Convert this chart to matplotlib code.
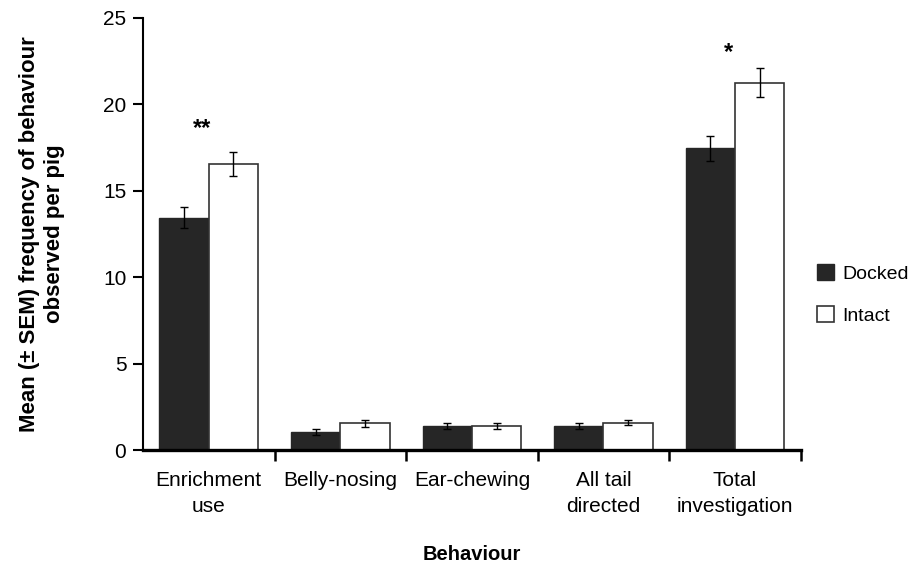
import matplotlib
matplotlib.use('Agg')
import matplotlib.pyplot as plt
import numpy as np

plt.rcParams['font.family'] = ['Liberation Sans', 'DejaVu Sans']

# data
categories = ['Enrichment\nuse', 'Belly-nosing', 'Ear-chewing', 'All tail\ndirected', 'Total\ninvestigation']
docked_mean = [13.45, 1.05, 1.4, 1.4, 17.45]
docked_sem = [0.6, 0.15, 0.15, 0.15, 0.7]
intact_mean = [16.55, 1.55, 1.4, 1.6, 21.25]
intact_sem = [0.7, 0.2, 0.15, 0.17, 0.85]
sig_labels = ['**', '', '', '', '*']
sig_heights = [18.6, None, None, None, 23.0]

fig = plt.figure(figsize=(9.11, 5.75), dpi=100)
ax = fig.add_axes([0.157, 0.217, 0.722, 0.752])

x = np.arange(len(categories))
w = 0.375
err_kw = dict(ecolor='black', elinewidth=1.0, capsize=3, capthick=1.0)
ax.bar(x - w / 2, docked_mean, w, yerr=docked_sem, color='#262626', edgecolor='#262626',
       linewidth=1, label='Docked', error_kw=err_kw)
ax.bar(x + w / 2, intact_mean, w, yerr=intact_sem, color='white', edgecolor='#333333',
       linewidth=1.2, label='Intact', error_kw=err_kw)

for xi, lab, h in zip(x, sig_labels, sig_heights):
    if lab:
        ax.text(xi - 0.05, h, lab, ha='center', va='center', fontsize=17, fontweight='bold')

ax.set_xlim(-0.5, len(categories) - 0.5)
ax.set_ylim(0, 25)
ax.set_yticks([0, 5, 10, 15, 20, 25])
ax.tick_params(axis='y', direction='out', length=7, width=1.5, labelsize=15, pad=5)

# category labels centred, ticks on the boundaries
ax.set_xticks(x)
ax.set_xticklabels(categories, fontsize=15, linespacing=1.45)
ax.tick_params(axis='x', which='major', length=0, pad=15)
ax.set_xticks(np.arange(0.5, len(categories)), minor=True)
ax.tick_params(axis='x', which='minor', direction='out', length=8, width=1.8)

for s in ['top', 'right']:
    ax.spines[s].set_visible(False)
ax.spines['left'].set_linewidth(1.5)
ax.spines['bottom'].set_linewidth(2.4)

ax.set_xlabel('Behaviour', fontsize=14.5, fontweight='bold', labelpad=21)
ax.set_ylabel('Mean (\u00b1 SEM) frequency of behaviour\nobserved per pig', fontsize=16,
              fontweight='bold', labelpad=27, linespacing=1.3)

ax.legend(loc='center left', bbox_to_anchor=(1.025, 0.36), frameon=False, fontsize=14,
          borderaxespad=0, borderpad=0, handlelength=0.85, handleheight=0.85,
          handletextpad=0.45, labelspacing=1.2)

fig.savefig('out.png', dpi=100)
